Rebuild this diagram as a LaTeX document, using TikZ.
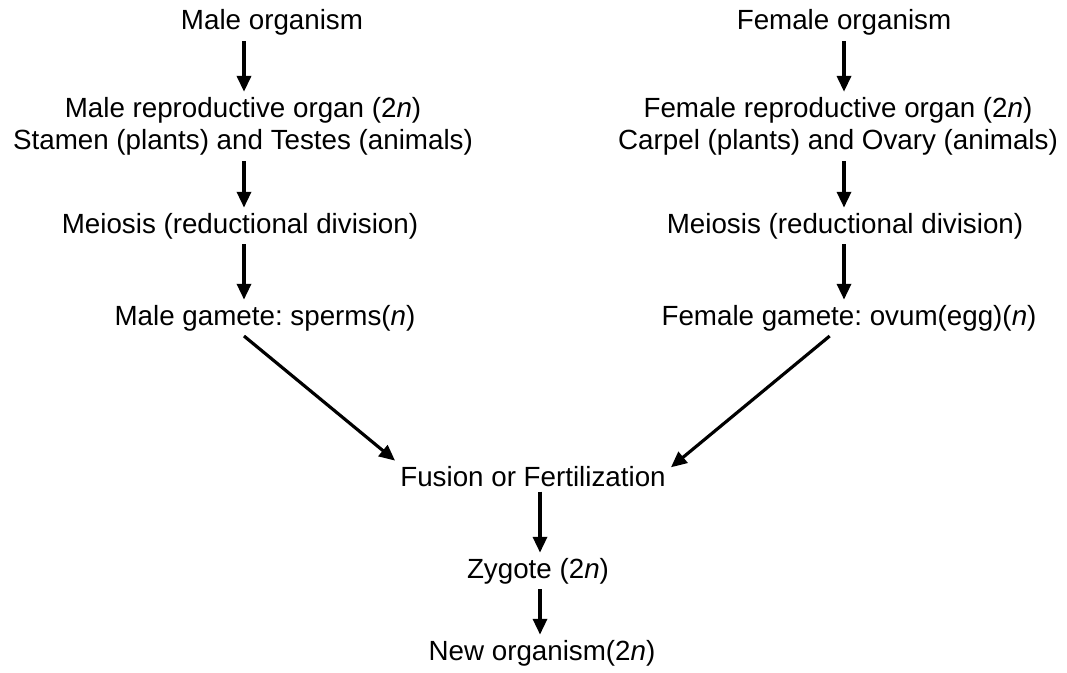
\documentclass[tikz,border=0pt]{standalone}
\usepackage{fontspec}
\setmainfont{Liberation Sans}
\usepackage{tikz}
\usetikzlibrary{arrows.meta}
\usetikzlibrary{positioning}
\frenchspacing

\begin{document}
\begin{tikzpicture}[x=0.02cm, y=-0.02cm]
\fontsize{15.8}{18.7}\selectfont
\useasboundingbox (0,0) rectangle (1067,672);

\coordinate (lcol) at (244,0);
\coordinate (rcol) at (844,0);
\coordinate (ccol) at (540,0);

\begin{scope}[every node/.style={inner sep=0pt, outer sep=3pt, anchor=base, align=center}]
    \node (morg) at (272,30) {Male organism};
    \node (mrep) at (243,150) {Male reproductive organ (2\textit{n})\\Stamen (plants) and Testes (animals)};
    \node (mmei) at (240,233) {Meiosis (reductional division)};
    \node (mgam) at (265,325) {Male gamete: sperms(\textit{n})};
\end{scope}

\begin{scope}[every node/.style={inner sep=0pt, outer sep=3pt, anchor=base, align=center}]
    \node (forg) at (844,30) {Female organism};
    \node (frep) at (838,150) {Female reproductive organ (2\textit{n})\\Carpel (plants) and Ovary (animals)};
    \node (fmei) at (845,233) {Meiosis (reductional division)};
    \node (fgam) at (849,325) {Female gamete: ovum(egg)(\textit{n})};
\end{scope}

\begin{scope}[every node/.style={inner sep=0pt, outer sep=3pt, anchor=base, align=center}]
    \node (fus) at (533,486) {Fusion or Fertilization};
    \node (zyg) at (538,578) {Zygote (2\textit{n})};
    \node (norg) at (542,660) {New organism(2\textit{n})};
\end{scope}

\begin{scope}[>={Triangle[black, length=9pt, width=8pt]},
              every edge/.style={draw=black, line width=1.8pt}]
    \path [->] (morg.south -| lcol) edge (mrep.north -| lcol);
    \path [->] (mrep.south -| lcol) edge (mmei.north -| lcol);
    \path [->] (mmei.south -| lcol) edge (mgam.north -| lcol);
\end{scope}

\begin{scope}[>={Triangle[black, length=9pt, width=8pt]},
              every edge/.style={draw=black, line width=1.8pt}]
    \path [->] (forg.south -| rcol) edge (frep.north -| rcol);
    \path [->] (frep.south -| rcol) edge (fmei.north -| rcol);
    \path [->] (fmei.south -| rcol) edge (fgam.north -| rcol);
\end{scope}

\begin{scope}[>={Triangle[black, length=9pt, width=8pt]},
              every edge/.style={draw=black, line width=1.8pt}]
    \path [->] (mgam.south -| lcol) edge (fus.north west);
    \path [->] ([xshift=-11pt]fgam.south) edge ([yshift=5pt]fus.east);
    \path [->] (fus.south -| ccol) edge (zyg.north -| ccol);
    \path [->] (zyg.south -| ccol) edge (norg.north -| ccol);
\end{scope}

\end{tikzpicture}
\end{document}
